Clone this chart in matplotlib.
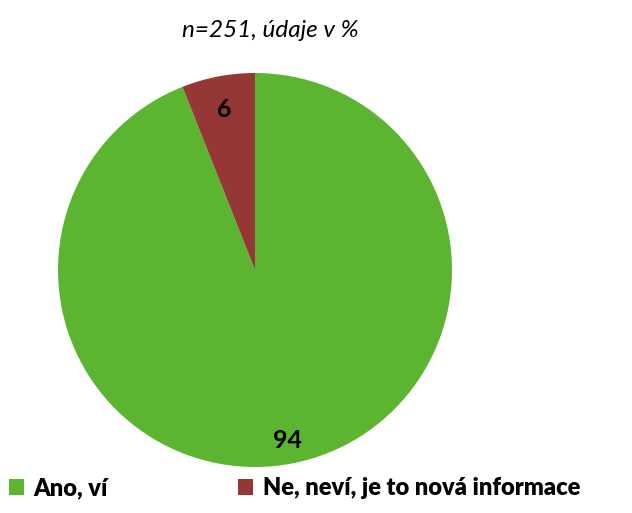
import numpy as np
import matplotlib.pyplot as plt
from matplotlib.patches import Patch

categories = ['Ano, ví', 'Ne, neví, je to nová informace']
values = [94, 6]
colors = ['#5cb531', '#953735']
subtitle = 'n=251, údaje v %'

plt.rcParams['font.family'] = ['Lato', 'DejaVu Sans']

fig = plt.figure(figsize=(6.32, 5.13), dpi=100)
ax = fig.add_axes([0.0918, 0.0897, 0.6234, 0.768])

wedges, _ = ax.pie(values, colors=colors, startangle=90, counterclock=False,
                   radius=1.0, wedgeprops=dict(linewidth=0))
ax.set_xlim(-1, 1)
ax.set_ylim(-1, 1)
ax.set_aspect('equal')

# value labels placed along each wedge's mid angle
for w, v, dist in zip(wedges, values, [0.88, 0.83]):
    mid = np.deg2rad((w.theta1 + w.theta2) / 2)
    ax.text(dist * np.cos(mid), dist * np.sin(mid), str(v),
            ha='center', va='center', fontsize=18, fontweight='bold')

fig.text(0.427, 0.94, subtitle, ha='center', va='center',
         fontsize=17.5, style='italic')

handles = [Patch(facecolor=c, edgecolor='none') for c in colors]
fig.legend(handles, categories, loc='lower left', bbox_to_anchor=(-0.012, -0.005),
           ncol=2, frameon=False, borderpad=0.2, handlelength=0.65,
           handleheight=0.65, handletextpad=0.4, columnspacing=5.5,
           prop=dict(size=17, weight='heavy'))

fig.savefig('out.png', dpi=100)
